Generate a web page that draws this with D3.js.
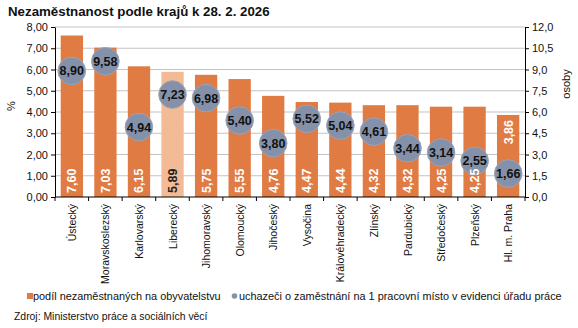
<!DOCTYPE html>
<html>
<head>
<meta charset="utf-8">
<script src="https://cdn.jsdelivr.net/npm/d3@7"></script>
<style>
	body { margin: 0; background: #fff; }
	svg { font-family: "Liberation Sans", Arial, sans-serif; }
</style>
</head>
<body>
<svg width="578" height="328"></svg>
<script>
// kraje a hodnoty
const regions = ['Ústecký', 'Moravskoslezský', 'Karlovarský', 'Liberecký', 'Jihomoravský', 'Olomoucký',
	'Jihočeský', 'Vysočina', 'Královéhradecký', 'Zlínský', 'Pardubický', 'Středočeský', 'Plzeňský', 'Hl. m. Praha']
const shareUnemployed = [7.60, 7.03, 6.15, 5.89, 5.75, 5.55, 4.76, 4.47, 4.44, 4.32, 4.32, 4.25, 4.25, 3.86]
const applicantsPerJob = [8.90, 9.58, 4.94, 7.23, 6.98, 5.40, 3.80, 5.52, 5.04, 4.61, 3.44, 3.14, 2.55, 1.66]
const leftTicks = [0, 1, 2, 3, 4, 5, 6, 7, 8]
const rightTicks = [0, 1.5, 3, 4.5, 6, 7.5, 9, 10.5, 12]
const highlighted = 'Liberecký'

const fmt2 = v => v.toFixed(2).replace('.', ',')
const fmt1 = v => v.toFixed(1).replace('.', ',')

const svg = d3.select('svg')
const plot = { left: 55, right: 525, top: 27, bottom: 197 }
const fs = 10.5

const x = d3.scaleBand().domain(regions).range([plot.left, plot.right]).paddingInner(0.335).paddingOuter(0.17)
const band = d3.scaleBand().domain(regions).range([plot.left, plot.right])
const yL = d3.scaleLinear().domain([0, 8]).range([plot.bottom, plot.top])
const yR = d3.scaleLinear().domain([0, 12]).range([plot.bottom, plot.top])

svg.append('text')
	.attr('x', 8).attr('y', 16)
	.attr('font-size', 13.3).attr('font-weight', 'bold').attr('fill', '#111')
	.text('Nezaměstnanost podle krajů k 28. 2. 2026')

// mřížka
svg.append('g').selectAll('line')
	.data(leftTicks.slice(1))
	.join('line')
	.attr('x1', plot.left).attr('x2', plot.right)
	.attr('y1', d => yL(d)).attr('y2', d => yL(d))
	.attr('stroke', '#c3c3c3').attr('stroke-width', 1)

// sloupce
svg.append('g').selectAll('rect')
	.data(regions)
	.join('rect')
	.attr('x', d => x(d))
	.attr('width', x.bandwidth())
	.attr('y', (d, i) => yL(shareUnemployed[i]))
	.attr('height', (d, i) => plot.bottom - yL(shareUnemployed[i]))
	.attr('fill', d => d === highlighted ? '#f2bb96' : '#e07b43')

// kruhy
svg.append('g').selectAll('circle')
	.data(regions)
	.join('circle')
	.attr('cx', d => band(d) + band.bandwidth() / 2)
	.attr('cy', (d, i) => yR(applicantsPerJob[i]))
	.attr('r', 13.8)
	.attr('fill', '#8591a9')
	.attr('stroke', '#9aa3b7').attr('stroke-width', 1)

svg.append('g').selectAll('text')
	.data(regions)
	.join('text')
	.attr('x', d => band(d) + band.bandwidth() / 2)
	.attr('y', (d, i) => yR(applicantsPerJob[i]) + 4.5)
	.attr('text-anchor', 'middle')
	.attr('font-size', 12.5).attr('font-weight', 'bold').attr('fill', '#111')
	.text((d, i) => fmt2(applicantsPerJob[i]))

// popisky sloupců
svg.append('g').selectAll('text')
	.data(regions)
	.join('text')
	.attr('transform', (d, i) => {
		const cx = x(d) + x.bandwidth() / 2 + 4.5
		const inside = d === 'Hl. m. Praha'
		return inside ? `translate(${cx},${yL(shareUnemployed[i]) + 5}) rotate(-90)`
			: `translate(${cx},${plot.bottom - 4}) rotate(-90)`
	})
	.attr('text-anchor', d => d === 'Hl. m. Praha' ? 'end' : 'start')
	.attr('font-size', 12.5).attr('font-weight', 'bold')
	.attr('fill', d => d === highlighted ? '#222' : '#fff')
	.text((d, i) => fmt2(shareUnemployed[i]))

// osy
const leftAxis = svg.append('g')
	.attr('transform', `translate(${plot.left},0)`)
	.call(d3.axisLeft(yL).tickValues(leftTicks).tickFormat(fmt2).tickSize(4).tickSizeOuter(0))
const rightAxis = svg.append('g')
	.attr('transform', `translate(${plot.right},0)`)
	.call(d3.axisRight(yR).tickValues(rightTicks).tickFormat(fmt1).tickSize(4).tickSizeOuter(0))
for (const g of [leftAxis, rightAxis]) {
	g.select('.domain').attr('stroke', '#000')
	g.selectAll('.tick line').attr('stroke', '#000')
	g.selectAll('.tick text').attr('font-size', fs + 0.5).attr('fill', '#111')
		.attr('font-family', '"Liberation Sans", Arial, sans-serif')
}

const xAxis = svg.append('g').attr('transform', `translate(0,${plot.bottom})`)
xAxis.append('line').attr('x1', plot.left).attr('x2', plot.right).attr('stroke', '#000')
xAxis.selectAll('.tk')
	.data(regions.concat(['']))
	.join('line')
	.attr('class', 'tk')
	.attr('x1', (d, i) => plot.left + i * band.bandwidth())
	.attr('x2', (d, i) => plot.left + i * band.bandwidth())
	.attr('y1', 0).attr('y2', 4)
	.attr('stroke', '#000')
xAxis.selectAll('text')
	.data(regions)
	.join('text')
	.attr('transform', d => `translate(${band(d) + band.bandwidth() / 2 + 4},7) rotate(-90)`)
	.attr('text-anchor', 'end')
	.attr('font-size', fs).attr('fill', '#111')
	.text(d => d)

svg.append('text')
	.attr('transform', 'translate(15,106) rotate(-90)')
	.attr('text-anchor', 'middle').attr('font-size', fs + 0.5).attr('fill', '#111')
	.text('%')
svg.append('text')
	.attr('transform', 'translate(570,84) rotate(-90)')
	.attr('text-anchor', 'middle').attr('font-size', fs + 0.5).attr('fill', '#111')
	.text('osoby')

// legenda
const legend = svg.append('g').attr('font-size', 10.9).attr('fill', '#111')
legend.append('rect').attr('x', 27).attr('y', 293).attr('width', 6).attr('height', 6).attr('fill', '#e07b43')
legend.append('text').attr('x', 33).attr('y', 300).text('podíl nezaměstnaných na obyvatelstvu')
legend.append('circle').attr('cx', 234.5).attr('cy', 296).attr('r', 2.8).attr('fill', '#8591a9')
legend.append('text').attr('x', 239).attr('y', 300).text('uchazeči o zaměstnání na 1 pracovní místo v evidenci úřadu práce')

svg.append('text')
	.attr('x', 14).attr('y', 320).attr('font-size', 10.4).attr('fill', '#111')
	.text('Zdroj: Ministerstvo práce a sociálních věcí')
</script>
</body>
</html>
